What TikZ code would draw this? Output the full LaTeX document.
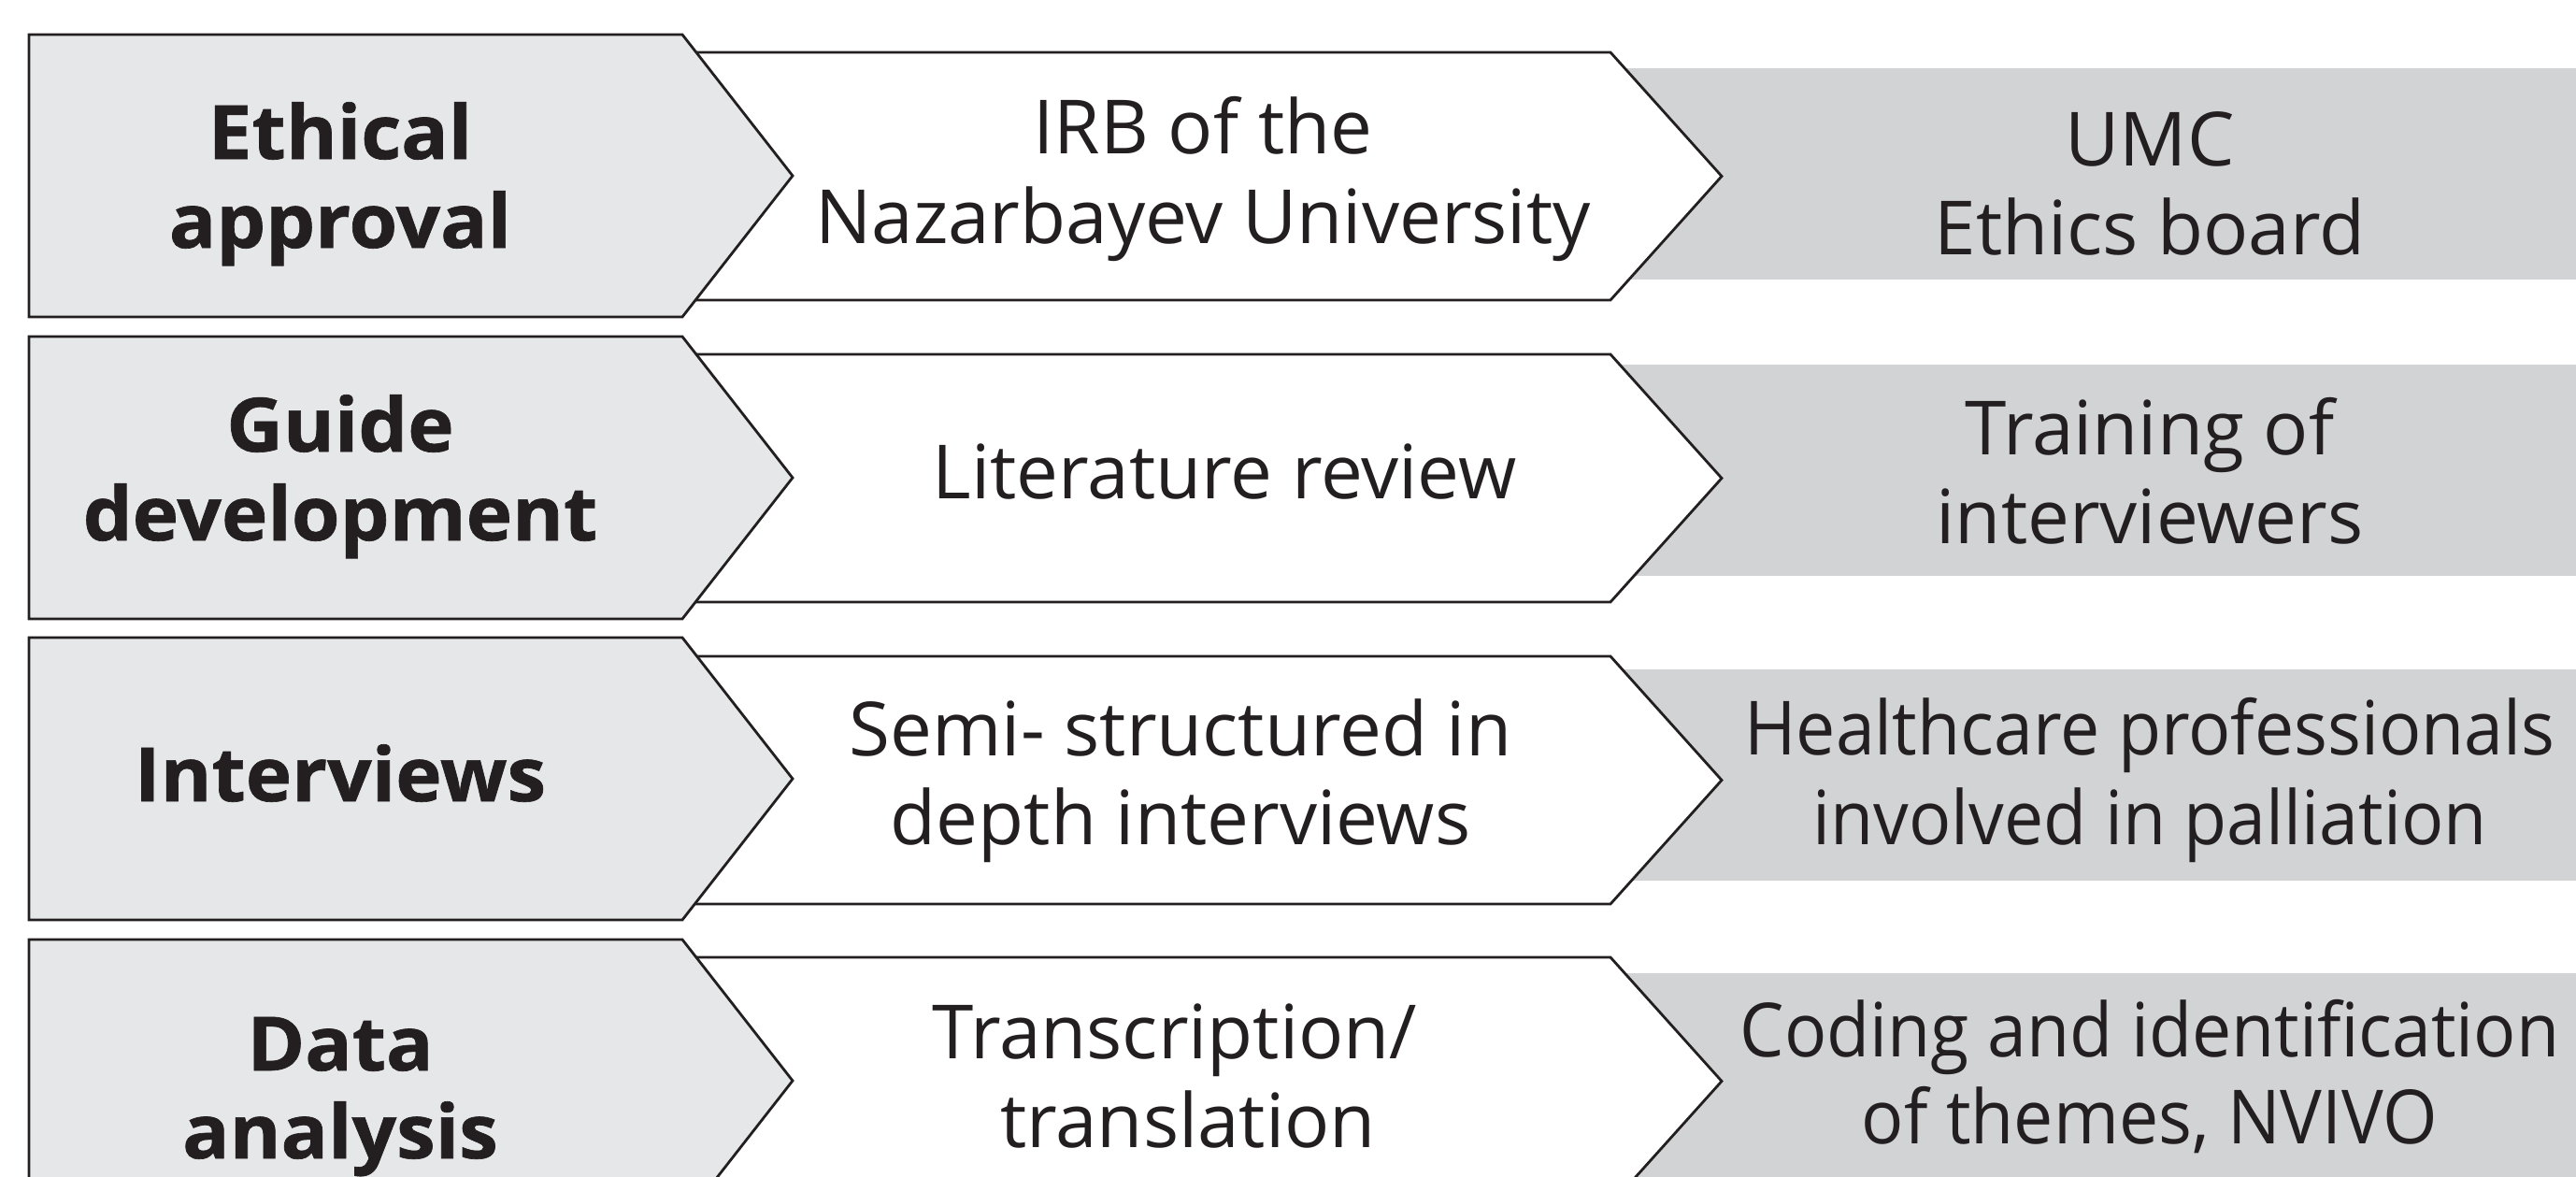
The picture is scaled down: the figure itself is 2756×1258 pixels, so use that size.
\documentclass[tikz,border=0pt]{standalone}
\usepackage{fontspec}
\setmainfont{Open Sans}[BoldFeatures={FakeBold=0.8}]
\definecolor{stepgray}{HTML}{E6E7E8}
\definecolor{bandgray}{HTML}{D1D3D4}
\definecolor{ink}{HTML}{231F20}

\begin{document}
\begin{tikzpicture}[x=1pt,y=-1pt,
  stage/.style={fill=stepgray, draw=ink, line width=2.8pt, line join=miter},
  method/.style={fill=white, draw=ink, line width=2.8pt, line join=miter},
  band/.style={fill=bandgray, draw=none},
  lbl/.style={font=\fontsize{80}{95}\selectfont\bfseries, text=ink, anchor=base, inner sep=0pt, xscale=1.045},
  txt/.style={font=\fontsize{80}{95}\selectfont, text=ink, anchor=base, inner sep=0pt},
  tight/.style={txt, xscale=0.94}]

\useasboundingbox (0,0) rectangle (2756,1258);
\clip (0,0) rectangle (2756,1258);

% each row: grey result band, white method arrow, grey stage arrow on top
\foreach \g/\w/\b in {37/56/73, 360/379/390, 682/702/716, 1005/1024/1041} {
  \fill[band] (1700,\b) rectangle (2770,\b+226);
  \draw[method] (700,\w) -- (1723,\w) -- (1842,\w+132.5) -- (1723,\w+265) -- (700,\w+265) -- cycle;
  \draw[stage] (31,\g) -- (730,\g) -- (848,\g+151) -- (730,\g+302) -- (31,\g+302) -- cycle;
}

% row 1
\node[lbl] (l1a) at (364,170) {Ethical};
\node[lbl] (l1b) at (364,265) {approval};
\node[txt] (m1a) at (1287,164) {IRB of the};
\node[txt] (m1b) at (1287,260) {Nazarbayev University};
\node[txt] (r1a) at (2300,177) {UMC};
\node[txt] (r1b) at (2300,272) {Ethics board};

% row 2
\node[lbl] (l2a) at (364,483) {Guide};
\node[lbl] (l2b) at (364,578) {development};
\node[txt] (m2a) at (1310,533) {Literature review};
\node[txt] (r2a) at (2300,486) {Training of};
\node[txt] (r2b) at (2300,581) {interviewers};

% row 3
\node[lbl] (l3a) at (364,857) {Interviews};
\node[txt] (m3a) at (1263,808) {Semi- structured in};
\node[txt] (m3b) at (1263,903) {depth interviews};
\node[tight] (r3a) at (2300,807) {Healthcare professionals};
\node[tight] (r3b) at (2300,903) {involved in palliation};

% row 4
\node[lbl] (l4a) at (364,1145) {Data};
\node[lbl] (l4b) at (364,1239) {analysis};
\node[txt] (m4a) at (1257,1132) {Transcription/};
\node[txt] (m4b) at (1271,1227) {translation};
\node[tight] (r4a) at (2300,1130) {Coding and identification};
\node[tight] (r4b) at (2300,1223) {of themes, NVIVO};
\end{tikzpicture}
\end{document}
